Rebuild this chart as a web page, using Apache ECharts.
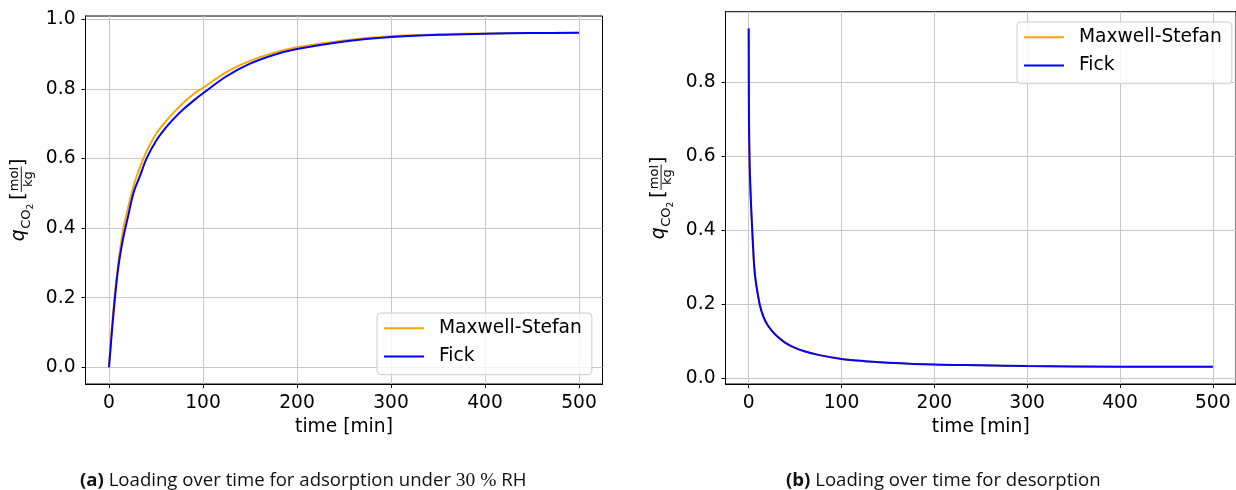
<!DOCTYPE html>
<html>
<head>
<meta charset="utf-8">
<script src="https://cdn.jsdelivr.net/npm/echarts@6/dist/echarts.min.js"></script>
<style>
  html, body { margin: 0; padding: 0; background: #fff; }
  #chart { width: 1236px; height: 490px; }
</style>
</head>
<body>
<div id="chart"></div>
<script>
// ---- adsorption (30 % RH): loading vs time ----
const adsTime = [0, 3, 6, 10, 15, 20, 26, 33, 40, 50, 60, 70, 80, 90, 100, 125, 150, 175, 200, 250, 300, 350, 400, 450, 500];
const adsMaxwellStefan = [0, 0.11, 0.205, 0.30, 0.395, 0.455, 0.52, 0.575, 0.62, 0.67, 0.705, 0.735, 0.762, 0.785, 0.803, 0.848, 0.880, 0.903, 0.919, 0.939, 0.951, 0.956, 0.959, 0.960, 0.961];
const adsFick = [0, 0.10, 0.19, 0.29, 0.37, 0.43, 0.50, 0.55, 0.60, 0.65, 0.687, 0.717, 0.743, 0.766, 0.787, 0.836, 0.872, 0.897, 0.914, 0.936, 0.949, 0.955, 0.958, 0.960, 0.961];

// ---- desorption: loading vs time ----
const desTime = [0, 0.3, 1, 2, 4, 6, 8, 12, 16, 20, 25, 30, 40, 50, 60, 75, 100, 125, 150, 200, 250, 300, 400, 500];
const desMaxwellStefan = [0.946, 0.70, 0.58, 0.50, 0.39, 0.30, 0.255, 0.198, 0.165, 0.145, 0.128, 0.115, 0.095, 0.082, 0.073, 0.063, 0.052, 0.046, 0.042, 0.037, 0.035, 0.033, 0.031, 0.031];
const desFick = [0.946, 0.70, 0.58, 0.50, 0.39, 0.30, 0.255, 0.198, 0.165, 0.145, 0.128, 0.115, 0.095, 0.082, 0.073, 0.063, 0.052, 0.046, 0.042, 0.037, 0.035, 0.033, 0.031, 0.031];

// ---- ticks and axis limits ----
const timeTicks = [0, 100, 200, 300, 400, 500];
const adsLoadTicks = [0, 0.2, 0.4, 0.6, 0.8, 1.0];
const desLoadTicks = [0, 0.2, 0.4, 0.6, 0.8];
const timeLimits = [-25, 525];
const adsLoadLimits = [-0.048, 1.009];
const desLoadLimits = [-0.0158, 0.9918];

const seriesNames = ['Maxwell-Stefan', 'Fick'];
const captionA = ['(a)', 'Loading over time for adsorption under', '30 %', 'RH'];
const captionB = ['(b)', 'Loading over time for desorption'];

const FONT = 'DejaVu Sans';
const FS = 18.67;
const ORANGE = '#FFA500';
const BLUE = '#0000FF';

const pairs = (xs, ys) => xs.map((x, i) => [x, ys[i]]);

function xAxisFor(gridIndex) {
  return {
    gridIndex, type: 'value', min: timeLimits[0], max: timeLimits[1],
    name: 'time [min]', nameLocation: 'middle', nameGap: 34,
    nameTextStyle: { fontFamily: FONT, fontSize: FS, color: '#000' },
    axisLine: { show: true, onZero: false, lineStyle: { color: '#000', width: 1 } },
    axisTick: { show: true, length: 4, customValues: timeTicks, lineStyle: { color: '#000', width: 1 } },
    axisLabel: { customValues: timeTicks, fontFamily: FONT, fontSize: FS, color: '#000', margin: 10,
                 formatter: v => String(Math.round(v)) },
    splitLine: { show: true, lineStyle: { color: '#c8c8c8', width: 1 } }
  };
}

function yAxisFor(gridIndex, limits, ticks) {
  return {
    gridIndex, type: 'value', min: limits[0], max: limits[1],
    axisLine: { show: true, onZero: false, lineStyle: { color: '#000', width: 1 } },
    axisTick: { show: true, length: 4, customValues: ticks, lineStyle: { color: '#000', width: 1 } },
    axisLabel: { customValues: ticks, fontFamily: FONT, fontSize: FS, color: '#000', margin: 10,
                 formatter: v => v.toFixed(1) },
    splitLine: { show: true, lineStyle: { color: '#c8c8c8', width: 1 } }
  };
}

function legendAt(left, top) {
  return {
    left, top, orient: 'vertical', selectedMode: false,
    icon: 'rect', itemWidth: 40, itemHeight: 2, itemGap: 9.3,
    padding: [5.7, 10, 8.7, 7],
    backgroundColor: 'rgba(255,255,255,0.8)',
    borderColor: '#cccccc', borderWidth: 1, borderRadius: 4,
    textStyle: { fontFamily: FONT, fontSize: FS, color: '#000', padding: [0, 0, 0, 10] },
    data: seriesNames
  };
}

function lineSeries(name, color, xi, data, smooth) {
  return {
    name, type: 'line', xAxisIndex: xi, yAxisIndex: xi, data,
    symbol: 'none', smooth, clip: true,
    lineStyle: { color, width: 2 }, itemStyle: { color }
  };
}

// y-axis title  q_{CO2} [mol/kg]  laid out along a baseline, then turned upright
function txt(text, x, baseline, size, extra) {
  return {
    type: 'text', x, y: baseline - 0.346 * size,
    style: Object.assign({ text, fontFamily: FONT, fontSize: size, fill: '#000',
                           align: 'left', verticalAlign: 'middle' }, extra || {})
  };
}
function loadingTitle(baseX, centerY) {
  const s1 = FS * 0.7, s2 = FS * 0.49;
  const fracL = 49, fracR = 75.4, fracC = (fracL + fracR) / 2;
  const axisH = -4.7;
  const total = 82.7;
  return {
    type: 'group', x: baseX, y: centerY + total / 2, rotation: Math.PI / 2,
    children: [
      txt('q', 0, 0, FS, { fontStyle: 'italic' }),
      txt('CO', 12.5, 5, s1),
      txt('2', 31.9, 8, s2),
      txt('[', 41.7, 0, FS),
      txt('mol', fracC, axisH - 2.2, s1, { align: 'center' }),
      { type: 'line', shape: { x1: fracL + 0.5, y1: axisH, x2: fracR - 0.5, y2: axisH },
        style: { stroke: '#000', lineWidth: 0.9 } },
      txt('kg', fracC, axisH + 11.4, s1, { align: 'center' }),
      txt(']', fracR, 0, FS)
    ]
  };
}

function caption(left, parts, withMath) {
  const text = withMath
    ? '{b|' + parts[0] + '} ' + parts[1] + ' {m|' + parts[2] + '} ' + parts[3]
    : '{b|' + parts[0] + '} ' + parts[1];
  return {
    type: 'text', x: left, y: 481,
    style: {
      text, fontFamily: 'Open Sans', fontSize: 18.6, fill: '#111', verticalAlign: 'middle',
      rich: {
        b: { fontFamily: 'Open Sans', fontSize: 18.6, fontWeight: 'bold', fill: '#111' },
        m: { fontFamily: 'Liberation Serif', fontSize: 19.5, fill: '#111' }
      }
    }
  };
}

const chart = echarts.init(document.getElementById('chart'), null, { renderer: 'canvas' });
chart.setOption({
  animation: false,
  backgroundColor: '#fff',
  grid: [
    { left: 85.5, top: 16, width: 517, height: 368, show: true, borderColor: '#000', borderWidth: 1 },
    { left: 725.5, top: 11.7, width: 517, height: 372.3, show: true, borderColor: '#000', borderWidth: 1 }
  ],
  xAxis: [xAxisFor(0), xAxisFor(1)],
  yAxis: [yAxisFor(0, adsLoadLimits, adsLoadTicks), yAxisFor(1, desLoadLimits, desLoadTicks)],
  legend: [legendAt(377, 313), legendAt(1017, 22)],
  series: [
    lineSeries(seriesNames[0], ORANGE, 0, pairs(adsTime, adsMaxwellStefan), 0.35),
    lineSeries(seriesNames[1], BLUE, 0, pairs(adsTime, adsFick), 0.35),
    lineSeries(seriesNames[0], ORANGE, 1, pairs(desTime, desMaxwellStefan), 0.3),
    lineSeries(seriesNames[1], BLUE, 1, pairs(desTime, desFick), 0.3)
  ],
  graphic: [
    loadingTitle(26, 200),
    loadingTitle(665.8, 198),
    caption(80, captionA, true),
    caption(786, captionB, false)
  ]
});
</script>
</body>
</html>
